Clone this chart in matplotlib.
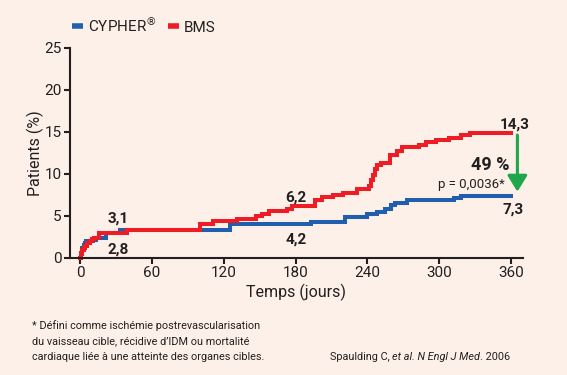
import matplotlib.pyplot as plt
from matplotlib.lines import Line2D

plt.rcParams['font.family'] = ['Roboto', 'DejaVu Sans']
plt.rcParams['mathtext.fontset'] = 'dejavusans'

# courbes de survie (jours, % patients)
jours_bms = [0, 1, 2, 3, 4, 6, 8, 10, 12, 16, 39, 100, 111, 131, 147, 152, 158, 173, 177,
             196, 202, 211, 220, 231, 241, 243, 245, 246.5, 248, 251, 259, 265, 269, 283,
             289, 297, 308, 318, 326, 360]
val_bms = [0, 0.5, 0.9, 1.2, 1.45, 1.7, 2.0, 2.2, 2.4, 2.9, 3.3, 4.0, 4.4, 4.6, 4.95, 5.25,
           5.6, 5.85, 6.2, 6.9, 7.2, 7.5, 7.75, 8.15, 8.55, 9.2, 9.9, 10.6, 11.0, 11.3, 12.2,
           12.7, 13.15, 13.45, 13.75, 14.05, 14.3, 14.6, 14.85, 14.85]

jours_cypher = [0, 1, 2, 3, 4, 5, 11, 13, 22, 33, 125, 193, 221, 240, 248, 255, 260, 263,
                273, 312, 318, 360]
val_cypher = [0, 0.6, 1.1, 1.5, 1.8, 1.95, 2.1, 2.4, 2.9, 3.3, 4.0, 4.3, 4.8, 5.2, 5.5, 5.8,
              6.3, 6.5, 6.85, 7.05, 7.4, 7.4]

xticks = [0, 60, 120, 180, 240, 300, 360]
yticks = [0, 5, 10, 15, 20, 25]

rouge = '#EE1C25'
bleu = '#1F5FAD'
vert = '#1DA64A'
fond = '#FDF0E8'
texte = '#231F20'

fig = plt.figure(figsize=(5.67, 3.75), dpi=100, facecolor=fond)
ax = fig.add_axes([0.1235, 0.3128, 0.7985, 0.56])
ax.set_facecolor(fond)

ax.plot(jours_cypher, val_cypher, drawstyle='steps-post', color=bleu, lw=2.9,
        solid_joinstyle='miter', clip_on=False)
ax.plot(jours_bms, val_bms, drawstyle='steps-post', color=rouge, lw=2.9,
        solid_joinstyle='miter', clip_on=False)

ax.set_xlim(-8.4, 369.8)
ax.set_ylim(0, 25)
ax.set_xticks(xticks)
ax.set_yticks(yticks)
for s in ['top', 'right']:
    ax.spines[s].set_visible(False)
for s in ['left', 'bottom']:
    ax.spines[s].set_linewidth(1.5)
    ax.spines[s].set_color(texte)
ax.tick_params(width=1.5, length=4, color=texte, labelsize=11, labelcolor=texte, pad=2)

ax.set_xlabel('Temps (jours)', fontsize=11.5, color=texte, labelpad=3)
ax.set_ylabel('Patients (%)', fontsize=11.5, color=texte, labelpad=0)

gras = dict(fontsize=11, fontweight='bold', color=texte, ha='center', va='center')
ax.text(31.7, 4.7, '3,1', **gras)
ax.text(32, 1.0, '2,8', **gras)
ax.text(180.5, 7.2, '6,2', **gras)
ax.text(180.5, 2.1, '4,2', **gras)
ax.text(362.6, 15.9, '14,3', clip_on=False, **gras)
ax.text(361.7, 5.7, '7,3', clip_on=False, **gras)
ax.text(342.5, 11.0, '49 %', fontsize=13, fontweight='bold', color=texte,
        ha='center', va='center')
ax.text(355, 8.75, 'p = 0,0036*', fontsize=9.5, color=texte, ha='right', va='center')

ax.annotate('', xy=(365.3, 7.86), xytext=(365.3, 14.6), annotation_clip=False,
            arrowprops=dict(arrowstyle='-|>,head_length=0.65,head_width=0.4',
                            mutation_scale=15, color=vert, lw=2.2,
                            shrinkA=0, shrinkB=0))

handles = [Line2D([], [], color=bleu, lw=4, solid_capstyle='butt'),
           Line2D([], [], color=rouge, lw=4, solid_capstyle='butt')]
fig.legend(handles, [r'CYPHER$^{\circledR}$', 'BMS'], loc='center left',
           bbox_to_anchor=(0.127, 1 - 25 / 375), ncol=2, frameon=False,
           fontsize=11, handlelength=0.75, handletextpad=0.3, columnspacing=0.7,
           labelcolor=texte, borderaxespad=0, borderpad=0)

note = ['* Défini comme ischémie postrevascularisation',
        'du vaisseau cible, récidive d’IDM ou mortalité',
        'cardiaque liée à une atteinte des organes cibles.']
for i, ligne in enumerate(note):
    fig.text(31.7 / 567, 1 - (326 + 15.3 * i) / 375, ligne, fontsize=7.8,
             color=texte, va='center', ha='left')

t1 = fig.text(330 / 567, 1 - 356.7 / 375, 'Spaulding C, ', fontsize=7.8,
              color=texte, va='center', ha='left')
t2 = fig.text(0, 0, 'et al. N Engl J Med', fontsize=7.8, color=texte,
              style='italic', va='center', ha='left')
t3 = fig.text(0, 0, '. 2006', fontsize=7.8, color=texte, va='center', ha='left')
fig.canvas.draw()
r = fig.canvas.get_renderer()
inv = fig.transFigure.inverted()
b1 = t1.get_window_extent(r)
t2.set_position((inv.transform((b1.x1, 0))[0], 1 - 356.7 / 375))
b2 = t2.get_window_extent(r)
t3.set_position((inv.transform((b2.x1, 0))[0], 1 - 356.7 / 375))

fig.savefig('out.png', dpi=100, facecolor=fond)
